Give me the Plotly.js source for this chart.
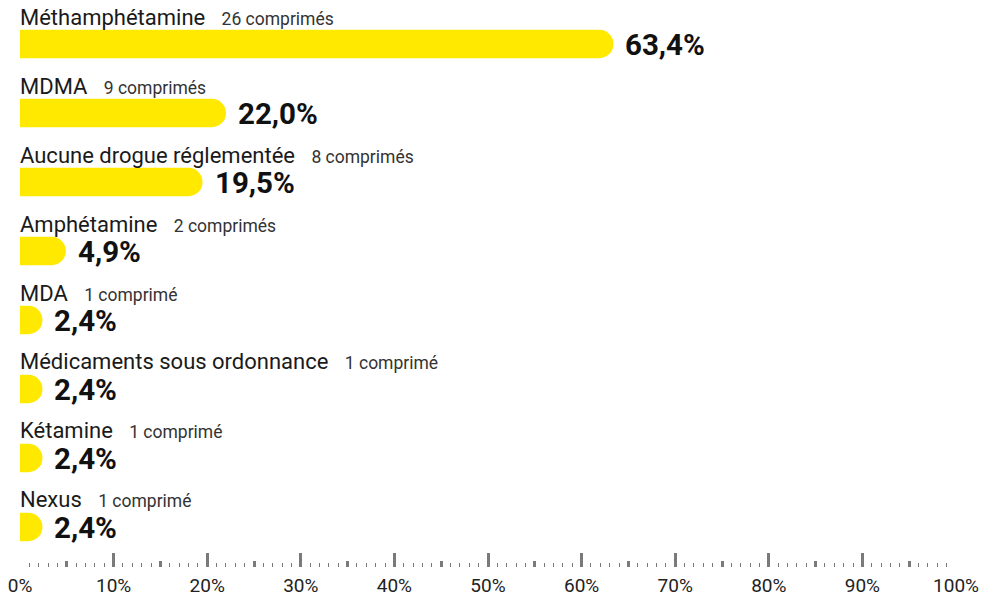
<!DOCTYPE html>
<html>
<head>
<meta charset="utf-8">
<script src="https://cdn.plot.ly/plotly-3.0.1.min.js"></script>
<style>html,body{margin:0;padding:0;background:#fff;}#chart{width:988px;height:598px;}</style>
</head>
<body>
<div id="chart"></div>
<script>
const categories = ["Méthamphétamine", "MDMA", "Aucune drogue réglementée", "Amphétamine", "MDA", "Médicaments sous ordonnance", "Kétamine", "Nexus"];
const counts = [26, 9, 8, 2, 1, 1, 1, 1];
const percents = [63.4, 22.0, 19.5, 4.9, 2.4, 2.4, 2.4, 2.4];
const xTickVals = [0,10,20,30,40,50,60,70,80,90,100];
const xTickText = ["0%","10%","20%","30%","40%","50%","60%","70%","80%","90%","100%"];
const midTickVals = [5,15,25,35,45,55,65,75,85,95];

const idx = categories.map((c, i) => i);
const FONT = "Roboto, 'DejaVu Sans', sans-serif";

const trace = {
  type: 'bar',
  orientation: 'h',
  x: percents,
  y: idx,
  width: 0.41,
  marker: {color: '#ffe900', line: {width: 0}},
  hoverinfo: 'skip',
  showlegend: false
};

const annotations = [];
categories.forEach((c, i) => {
  const unit = counts[i] > 1 ? ' comprimés' : ' comprimé';
  annotations.push({
    x: 0, y: i, xref: 'x', yref: 'y',
    xanchor: 'left', yanchor: 'middle',
    xshift: -2, yshift: 27,
    showarrow: false,
    text: c + '&nbsp;&nbsp;&nbsp;<span style="font-size:17.5px;fill:#333">' + counts[i] + unit + '</span>',
    font: {family: FONT, size: 22, color: '#1a1a1a'}
  });
  annotations.push({
    x: percents[i], y: i, xref: 'x', yref: 'y',
    xanchor: 'left', yanchor: 'middle',
    xshift: 10, yshift: -1,
    showarrow: false,
    text: '<b>' + percents[i].toFixed(1).replace('.', ',') + '%</b>',
    font: {family: FONT, size: 29.5, color: '#111'}
  });
});

const layout = {
  width: 988, height: 598,
  margin: {l: 20, r: 32, t: 0, b: 31, pad: 0},
  paper_bgcolor: '#fff', plot_bgcolor: '#fff',
  barcornerradius: 14,
  font: {family: FONT},
  xaxis: {
    range: [0, 100], fixedrange: true,
    tickvals: xTickVals, ticktext: xTickText,
    ticks: 'inside', ticklen: 14, tickwidth: 3, tickcolor: '#7a7a7a',
    tickfont: {family: FONT, size: 19, color: '#222'},
    ticklabelstandoff: 5,
    showgrid: false, zeroline: false, showline: false,
    minor: {dtick: 1, ticks: 'inside', ticklen: 4, tickwidth: 1, tickcolor: '#7a7a7a', showgrid: false}
  },
  xaxis2: {
    overlaying: 'x', anchor: 'y', side: 'bottom',
    range: [0, 100], fixedrange: true,
    tickvals: midTickVals, showticklabels: false,
    ticks: 'inside', ticklen: 6, tickwidth: 3, tickcolor: '#7a7a7a',
    showgrid: false, zeroline: false, showline: false
  },
  yaxis: {
    range: [7.58, -0.638], fixedrange: true,
    showticklabels: false, showgrid: false, zeroline: false, showline: false, ticks: ''
  },
  annotations: annotations
};

const midTrace = {type: 'scatter', x: [0], y: [0], xaxis: 'x2', yaxis: 'y', mode: 'markers', marker: {opacity: 0}, hoverinfo: 'skip', showlegend: false};

Plotly.newPlot('chart', [trace, midTrace], layout, {displayModeBar: false, staticPlot: true});
</script>
</body>
</html>
